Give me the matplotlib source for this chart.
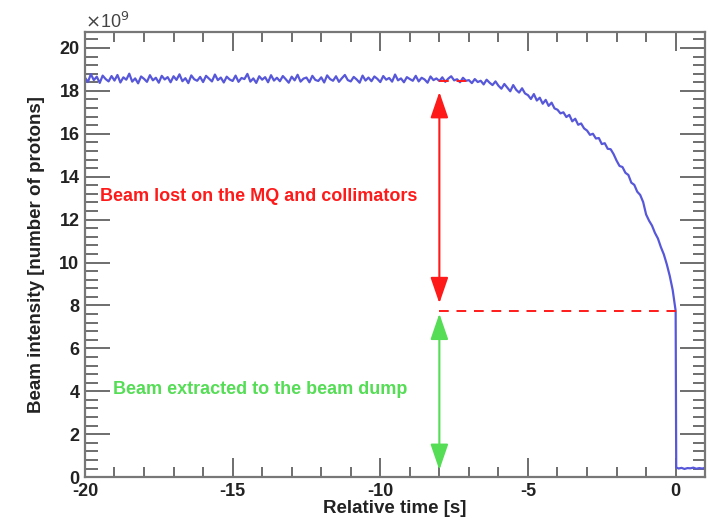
import numpy as np
import matplotlib.pyplot as plt
from matplotlib.ticker import MultipleLocator

plt.rcParams['font.family'] = ['Liberation Sans', 'DejaVu Sans']
plt.rcParams['axes.unicode_minus'] = False

# beam intensity (x1e9 protons), one value every 0.1 s from -20.0 s to 0.0 s
flat = [
    18.62, 18.41, 18.78, 18.50, 18.66, 18.37, 18.71, 18.55, 18.44, 18.69,
    18.48, 18.74, 18.39, 18.63, 18.52, 18.80, 18.43, 18.58, 18.35, 18.67,
    18.56, 18.42, 18.73, 18.49, 18.61, 18.38, 18.70, 18.53, 18.64, 18.40,
    18.68, 18.51, 18.77, 18.45, 18.59, 18.36, 18.72, 18.54, 18.47, 18.65,
    18.41, 18.70, 18.57, 18.44, 18.76, 18.50, 18.62, 18.39, 18.66, 18.53,
    18.46, 18.71, 18.42, 18.60, 18.55, 18.79, 18.43, 18.58, 18.37, 18.68,
    18.52, 18.64, 18.40, 18.73, 18.48, 18.61, 18.45, 18.69, 18.54, 18.38,
    18.66, 18.49, 18.75, 18.43, 18.57, 18.62, 18.40, 18.70, 18.51, 18.46,
    18.63, 18.39, 18.72, 18.55, 18.47, 18.68, 18.42, 18.59, 18.74, 18.50,
    18.44, 18.65, 18.53, 18.38, 18.71, 18.48, 18.62, 18.45, 18.67, 18.56,
    18.41, 18.69, 18.52, 18.60, 18.43, 18.76, 18.49, 18.58, 18.40, 18.64,
    18.55, 18.47, 18.70, 18.44, 18.61, 18.53, 18.38, 18.67, 18.50, 18.58,
    18.46, 18.63, 18.42, 18.57, 18.68, 18.49, 18.54, 18.40, 18.61, 18.47,
]
decay = [
    18.50, 18.36, 18.55, 18.41, 18.47, 18.30, 18.52, 18.38, 18.27, 18.44,
    18.24, 18.10, 18.32, 18.15, 17.98, 18.27, 18.05, 17.92, 18.12, 17.88,
    17.80, 17.62, 17.85, 17.55, 17.68, 17.40, 17.58, 17.30, 17.45, 17.18,
    17.12, 16.95, 17.00, 16.78, 16.88, 16.58, 16.70, 16.42, 16.48, 16.25,
    16.15, 15.95, 16.00, 15.78, 15.80, 15.52, 15.56, 15.30, 15.28, 15.05,
    14.75, 14.50, 14.45, 14.18, 14.08, 13.72, 13.62, 13.30, 13.15, 12.82,
    12.24, 11.95, 11.72, 11.38, 11.12, 10.72, 10.38, 9.92, 9.38, 8.72,
    7.75,
]
# after extraction
tail_t = [0.02, 0.1, 0.2, 0.3, 0.4, 0.5, 0.6, 0.7, 0.8, 0.9, 1.0]
tail_v = [0.45, 0.40, 0.43, 0.38, 0.42, 0.41, 0.44, 0.39, 0.42, 0.40, 0.43]

t_main = np.round(np.arange(-200, 1) * 0.1, 1)
t = np.concatenate([t_main, tail_t])
intensity = np.concatenate([flat, decay, tail_v])

level_before = 18.47
level_after = 7.75
t_mark = -8.0

fig = plt.figure(figsize=(7.08, 5.22), dpi=100)
ax = fig.add_axes([0.12, 0.086, 0.876, 0.853])

ax.plot(t, intensity, color='#5757da', lw=1.6, zorder=2)

red = '#ff1a1a'
green = '#55dd55'
ax.plot([t_mark, 0], [level_after, level_after], color=red, ls=(0, (5, 4)), lw=1.4, zorder=3)
ax.plot([t_mark, -6.95], [level_before, level_before], color=red, ls=(0, (5, 4)), lw=1.4, zorder=3)

arrow = '<|-|>,head_length=1.6,head_width=0.55'
ax.annotate('', xy=(t_mark, 8.1), xytext=(t_mark, 17.95),
            arrowprops=dict(arrowstyle=arrow, color=red, lw=1.5, mutation_scale=10,
                            shrinkA=0, shrinkB=0), zorder=4)
ax.annotate('', xy=(t_mark, 0.33), xytext=(t_mark, 7.62),
            arrowprops=dict(arrowstyle=arrow, color=green, lw=1.5, mutation_scale=10,
                            shrinkA=0, shrinkB=0), zorder=4)

ax.text(-19.5, 13.1, 'Beam lost on the MQ and collimators', color=red,
        fontsize=13, fontweight='bold', va='center', ha='left')
ax.text(-19.05, 4.06, 'Beam extracted to the beam dump', color=green,
        fontsize=13, fontweight='bold', va='center', ha='left')

ax.set_xlim(-20, 1.0)
ax.set_ylim(0, 20.75)
ax.xaxis.set_major_locator(MultipleLocator(5))
ax.xaxis.set_minor_locator(MultipleLocator(1))
ax.yaxis.set_major_locator(MultipleLocator(2))
ax.yaxis.set_minor_locator(MultipleLocator(0.4))
ax.tick_params(which='both', direction='in', top=True, right=True, color='#555555', width=1.2)
ax.tick_params(axis='x', which='major', length=14, pad=4)
ax.tick_params(axis='x', which='minor', length=7)
ax.tick_params(axis='y', which='major', length=18, pad=4)
ax.tick_params(axis='y', which='minor', length=9)
for lab in ax.get_xticklabels() + ax.get_yticklabels():
    lab.set_fontweight('bold')
    lab.set_fontsize(13)
    lab.set_color('#222222')
for sp in ax.spines.values():
    sp.set_color('#777777')
    sp.set_linewidth(1.6)

ax.set_xlabel('Relative time [s]', fontsize=13.5, fontweight='bold', color='#222222', labelpad=0)
ax.set_ylabel('Beam intensity [number of protons]', fontsize=13.5, fontweight='bold',
              color='#222222', labelpad=10)
ax.text(0.0, 1.0, r'$\times$10$^{9}$', transform=ax.transAxes, fontsize=13,
        color='#444444', ha='left', va='bottom')

fig.savefig('out.png', dpi=100)
